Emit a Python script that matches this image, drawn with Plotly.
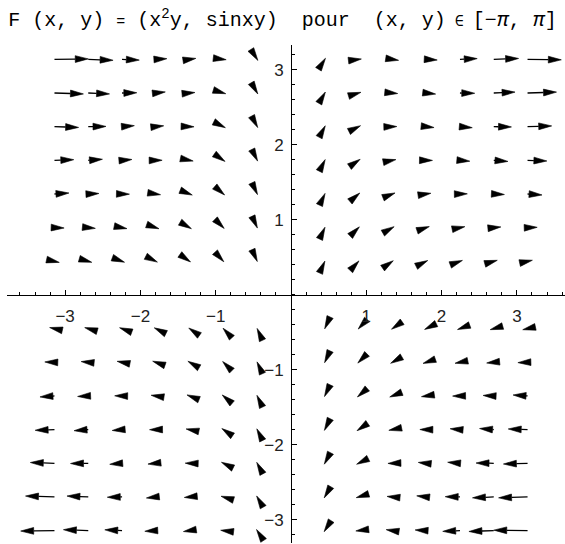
import math
import plotly.graph_objects as go

# Sample grid on [-pi, pi] (15 points per axis)
grid_x = [-3.1416, -2.6928, -2.2440, -1.7952, -1.3464, -0.8976, -0.4488, 0.0,
          0.4488, 0.8976, 1.3464, 1.7952, 2.2440, 2.6928, 3.1416]
grid_y = [-3.1416, -2.6928, -2.2440, -1.7952, -1.3464, -0.8976, -0.4488, 0.0,
          0.4488, 0.8976, 1.3464, 1.7952, 2.2440, 2.6928, 3.1416]

tick_vals = [-3, -2, -1, 1, 2, 3]
tick_text = ["\u22123", "\u22122", "\u22121", "1", "2", "3"]

title_text = ("F\u00a0(x,\u00a0y)\u00a0<span style='font-size:15px'>=</span>\u00a0"
              "(x<sup>2</sup>y,\u00a0sinxy)\u00a0\u00a0pour\u00a0\u00a0(x,\u00a0y)"
              "<span style='font-size:15px'>\u00a0\u2208\u00a0</span>"
              "[\u2212<i>\u03c0</i>,\u00a0<i>\u03c0</i>]")


def field(x, y):
    """F(x, y) = (x^2 y, sin(x y))"""
    return x * x * y, math.sin(x * y)


# Figure / axis geometry
W, H = 565, 544
ML, MR, MT, MB = 7, 0, 45, 1
x_range = [-3.772, 3.639]
y_range = [-3.307, 3.333]
plot_w = W - ML - MR
plot_h = H - MT - MB
sx = plot_w / (x_range[1] - x_range[0])  # px per unit
sy = plot_h / (y_range[1] - y_range[0])

# scale: longest vector spans one grid step
step = grid_x[1] - grid_x[0]
vecs = []
for yv in grid_y:
    for xv in grid_x:
        u, v = field(xv, yv)
        vecs.append((xv, yv, u, v))
max_mag = max(math.hypot(u, v) for _, _, u, v in vecs)
k = step / max_mag

HEAD_LEN = 13.0   # px
HEAD_HALF = 3.4   # px

shaft_x, shaft_y = [], []
head_x, head_y = [], []
for xv, yv, u, v in vecs:
    if math.hypot(u, v) < 1e-9:
        continue
    x1, y1 = xv + k * u, yv + k * v
    dxp, dyp = (x1 - xv) * sx, (y1 - yv) * sy
    lp = math.hypot(dxp, dyp)
    ux, uy = dxp / lp, dyp / lp
    bx, by = x1 - HEAD_LEN * ux / sx, y1 - HEAD_LEN * uy / sy
    px, py = -uy, ux
    head_x += [x1, bx + HEAD_HALF * px / sx, bx - HEAD_HALF * px / sx, x1, None]
    head_y += [y1, by + HEAD_HALF * py / sy, by - HEAD_HALF * py / sy, y1, None]
    if lp > HEAD_LEN:
        shaft_x += [xv, bx, None]
        shaft_y += [yv, by, None]

fig = go.Figure()
fig.add_trace(go.Scatter(x=shaft_x, y=shaft_y, mode="lines",
                         line=dict(color="black", width=1.3),
                         hoverinfo="skip", showlegend=False))
fig.add_trace(go.Scatter(x=head_x, y=head_y, mode="lines", fill="toself",
                         fillcolor="black", line=dict(color="black", width=0.6),
                         hoverinfo="skip", showlegend=False))

tick_font = dict(family="Liberation Sans, Arial, sans-serif", size=17, color="#222")
fig.update_layout(
    width=W, height=H,
    margin=dict(l=ML, r=MR, t=MT, b=MB, pad=0),
    paper_bgcolor="white", plot_bgcolor="white",
    title=dict(text=title_text, x=0.5, xref="container", xanchor="center",
               y=1 - 19 / H, yref="container", yanchor="middle",
               font=dict(family="Liberation Mono, Courier New, monospace",
                         size=20, color="black")),
    xaxis=dict(range=x_range, anchor="free", position=(543 - 295) / plot_h,
               showgrid=False, zeroline=False, showline=True,
               linecolor="black", linewidth=1,
               tickmode="array", tickvals=tick_vals, ticktext=tick_text,
               ticks="inside", ticklen=5, tickcolor="black", tickwidth=1,
               ticklabelstandoff=6, tickfont=tick_font,
               minor=dict(ticks="inside", dtick=0.2, tick0=0, ticklen=3,
                          tickcolor="black", tickwidth=1, showgrid=False)),
    yaxis=dict(range=y_range, anchor="free", position=(291 - ML) / plot_w,
               showgrid=False, zeroline=False, showline=True,
               linecolor="black", linewidth=1,
               tickmode="array", tickvals=tick_vals, ticktext=tick_text,
               ticks="inside", ticklen=5, tickcolor="black", tickwidth=1,
               ticklabelstandoff=4, tickfont=tick_font,
               minor=dict(ticks="inside", dtick=0.2, tick0=0, ticklen=3,
                          tickcolor="black", tickwidth=1, showgrid=False)),
)

fig.write_html("out.html")
